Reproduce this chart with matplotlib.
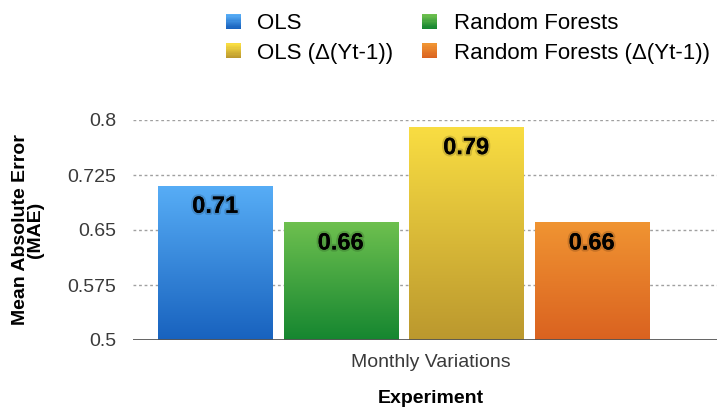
import numpy as np
import matplotlib
matplotlib.use("Agg")
import matplotlib.pyplot as plt
from matplotlib.colors import LinearSegmentedColormap
from matplotlib.patches import Patch, Rectangle
from matplotlib.legend_handler import HandlerBase
import matplotlib.patheffects as pe

plt.rcParams['font.family'] = ['Liberation Sans', 'DejaVu Sans']

category = "Monthly Variations"
series = ["OLS", "Random Forests", "OLS (Δ(Yt-1))", "Random Forests (Δ(Yt-1))"]
values = [0.71, 0.66, 0.79, 0.66]
top_colors = ["#57adf6", "#6ec04f", "#f9dd42", "#f09432"]
bottom_colors = ["#1862be", "#158630", "#bb982e", "#da6220"]
yticks = [0.5, 0.575, 0.65, 0.725, 0.8]
ytick_labels = ["0.5", "0.575", "0.65", "0.725", "0.8"]
legend_order = [0, 2, 1, 3]


class GradientHandler(HandlerBase):
    def create_artists(self, legend, orig_handle, xdescent, ydescent, width, height, fontsize, trans):
        cmap = orig_handle.cmap
        n = 12
        arts = []
        for k in range(n):
            r = Rectangle((-xdescent, -ydescent + height * k / n), width, height / n + 0.05,
                          facecolor=cmap(k / (n - 1)), edgecolor="none", transform=trans)
            arts.append(r)
        return arts


fig = plt.figure(figsize=(7.17, 4.08), dpi=100)
ax = fig.add_axes([133/717, 68/408, 596/717, 220/408])

positions = np.arange(len(values)) - (len(values) - 1) / 2
width = 0.91
ymin, ymax = 0.5, 0.8
cmaps = []
for i, (x, v) in enumerate(zip(positions, values)):
    cmap = LinearSegmentedColormap.from_list("g%d" % i, [bottom_colors[i], top_colors[i]])
    cmaps.append(cmap)
    grad = np.linspace(0, 1, 256).reshape(-1, 1)
    ax.imshow(grad, cmap=cmap, origin="lower", aspect="auto",
              extent=[x - width/2, x + width/2, ymin, v], zorder=3)
    t = ax.text(x, v - 0.012, f"{v:.2f}", ha="center", va="top",
                fontsize=17, fontweight="bold", color="black", zorder=5)
    t.set_path_effects([pe.Stroke(linewidth=3, foreground=(0, 0, 0, 0.15)), pe.Normal()])

xl = (positions[0] - 0.655, positions[-1] + 1.094)
ax.set_xlim(*xl)
ax.set_ylim(ymin, ymax)
ax.set_yticks(yticks)
ax.set_yticklabels(ytick_labels, fontsize=14, color="#3a3a3a")
ax.set_xticks([(xl[0] + xl[1]) / 2])
ax.set_xticklabels([category], fontsize=14, color="#3a3a3a")
ax.tick_params(axis="y", length=0, pad=12)
ax.tick_params(axis="x", length=0, pad=10)
for s in ax.spines.values():
    s.set_visible(False)
for y in yticks[1:]:
    ax.axhline(y, color="#a0a0a0", linestyle=(0, (2, 2)), linewidth=1, zorder=1)
ax.axhline(ymin, color="#555555", linewidth=2, zorder=4)

ax.set_ylabel("Mean Absolute Error\n(MAE)", fontsize=14, fontweight="bold", linespacing=0.85)
ax.yaxis.set_label_coords(-0.149, 0.5)
ax.set_xlabel("Experiment", fontsize=14, fontweight="bold", labelpad=14)

handles = []
hmap = {}
for i in legend_order:
    h = Patch(label=series[i])
    h.cmap = cmaps[i]
    handles.append(h)
    hmap[h] = GradientHandler()
fig.legend(handles=handles, loc="upper left", bbox_to_anchor=(213/717, 1.0), ncol=2,
           frameon=False, fontsize=16, handlelength=0.65, handleheight=0.65,
           handletextpad=0.75, columnspacing=1.3, labelspacing=0.38, borderaxespad=0.2,
           handler_map=hmap)

fig.savefig("out.png", dpi=100)
